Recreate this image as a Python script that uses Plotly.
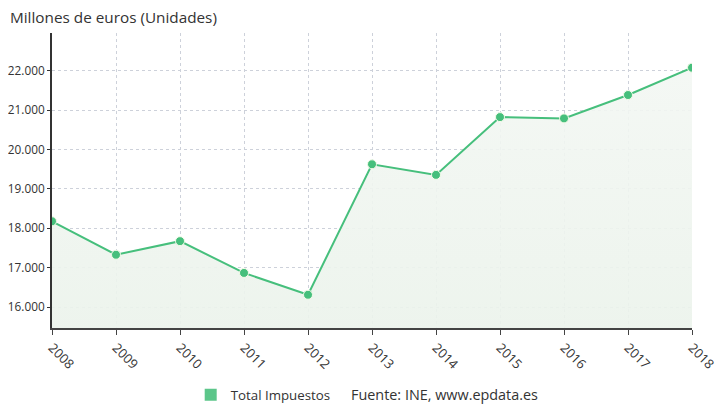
import plotly.graph_objects as go

years = [2008, 2009, 2010, 2011, 2012, 2013, 2014, 2015, 2016, 2017, 2018]
total_impuestos = [18176, 17327, 17672, 16865, 16311, 19624, 19355, 20822, 20789, 21382, 22076]
y_ticks = [16000, 17000, 18000, 19000, 20000, 21000, 22000]
y_tick_labels = ["16.000", "17.000", "18.000", "19.000", "20.000", "21.000", "22.000"]

line_color = "#46bf7c"
font_fam = "Open Sans, Noto Sans, sans-serif"

fig = go.Figure()
fig.add_trace(go.Scatter(
    x=years, y=total_impuestos, mode="lines+markers",
    line=dict(color=line_color, width=2),
    marker=dict(size=9, color=line_color, line=dict(color="#f4fbe8", width=1)),
    fill="tozeroy",
    fillgradient=dict(type="vertical",
                      colorscale=[[0, "rgba(218,234,218,0.95)"], [1, "rgba(243,247,243,0.9)"]]),
    showlegend=False, hoverinfo="x+y",
))
fig.add_trace(go.Scatter(
    x=[None], y=[None], mode="markers", name="Total Impuestos",
    marker=dict(symbol="square", size=9, color="#5cc68a"),
))

fig.update_layout(
    width=725, height=416,
    margin=dict(l=44, r=41, t=25, b=96, autoexpand=False),
    paper_bgcolor="white", plot_bgcolor="white",
    font=dict(family=font_fam, size=13, color="#333333"),
    showlegend=True,
    legend=dict(orientation="h", xref="container", yref="container",
                x=0.252, xanchor="left", y=0.0697, yanchor="middle",
                font=dict(size=13.3, color="#333333"), itemwidth=30,
                itemsizing="constant"),
    annotations=[
        dict(text="Millones de euros (Unidades)", xref="paper", yref="paper",
             x=-0.069, y=1.054, xanchor="left", yanchor="middle", showarrow=False,
             font=dict(size=15.3, color="#333333")),
        dict(text="Fuente: INE, www.epdata.es", xref="paper", yref="paper",
             x=0.464, y=-0.227, xanchor="left", yanchor="middle", showarrow=False,
             font=dict(size=14.4, color="#333333")),
    ],
    xaxis=dict(
        range=[2008, 2018], tickmode="array", tickvals=years,
        ticktext=[str(y) for y in years], tickangle=45,
        showgrid=True, gridcolor="#cdd1da", griddash="dot", gridwidth=1,
        showline=True, linecolor="#444444", linewidth=2,
        ticks="outside", ticklen=5, tickcolor="#444444",
        zeroline=False, fixedrange=True, automargin=False,
        tickfont=dict(size=13),
    ),
    yaxis=dict(
        range=[15467, 22957], tickmode="array", tickvals=y_ticks, ticktext=y_tick_labels,
        showgrid=True, gridcolor="#cdd1da", griddash="dot", gridwidth=1,
        showline=True, linecolor="#333333", linewidth=2,
        ticks="outside", ticklen=3, tickcolor="#333333",
        zeroline=False, fixedrange=True, automargin=False,
        tickfont=dict(size=11.8),
    ),
)

fig.write_html("out.html")
